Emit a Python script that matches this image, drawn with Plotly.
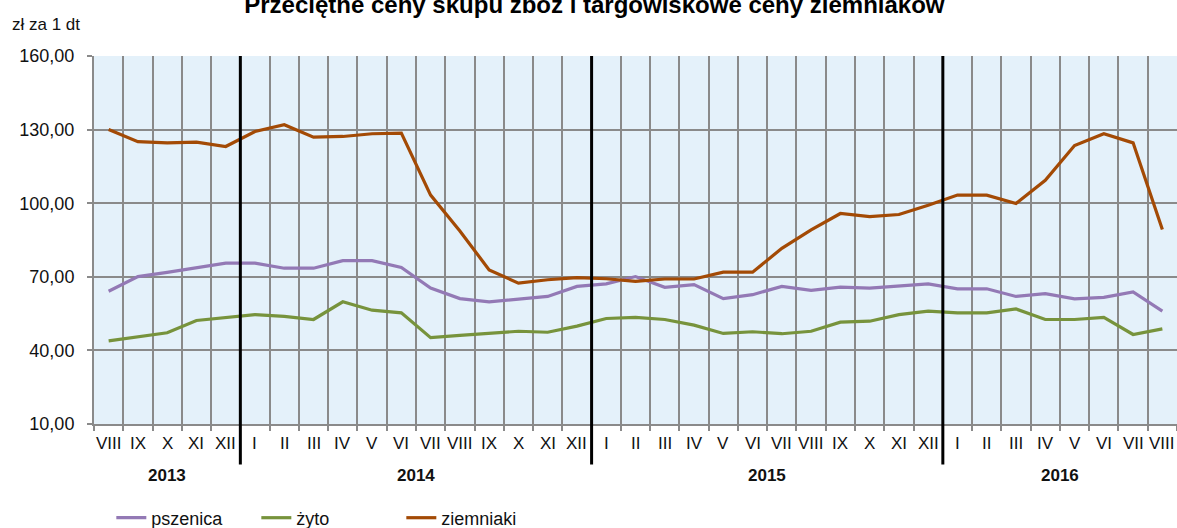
import plotly.graph_objects as go

years = ["2013"] * 5 + ["2014"] * 12 + ["2015"] * 12 + ["2016"] * 8
months = ["VIII", "IX", "X", "XI", "XII"] + \
         ["I", "II", "III", "IV", "V", "VI", "VII", "VIII", "IX", "X", "XI", "XII"] * 2 + \
         ["I", "II", "III", "IV", "V", "VI", "VII", "VIII"]

pszenica = [64.1, 70.1, 71.8, 73.8, 75.6,
            75.6, 73.5, 73.5, 76.6, 76.6, 73.8, 65.4, 61.1, 59.8, 61.0, 62.0, 66.1,
            67.1, 70.1, 65.7, 66.8, 61.1, 62.7, 66.1, 64.5, 65.8, 65.4, 66.1, 67.1,
            65.1, 65.1, 62.0, 63.1, 61.0, 61.6, 63.8, 56.0]
zyto = [43.9, 45.4, 47.2, 52.2, 53.5,
        54.6, 53.9, 52.6, 59.8, 56.4, 55.3, 45.2, 46.1, 46.8, 47.8, 47.4, 49.9,
        53.0, 53.5, 52.6, 50.3, 46.9, 47.6, 46.8, 47.8, 51.5, 51.9, 54.6, 56.0,
        55.3, 55.3, 56.9, 52.6, 52.6, 53.5, 46.5, 48.8]
ziemniaki = [130.0, 125.1, 124.6, 124.9, 123.1,
             129.2, 132.0, 126.9, 127.2, 128.3, 128.6, 103.3, 88.7, 72.8, 67.4, 68.8, 69.7,
             69.2, 68.1, 69.1, 69.1, 71.9, 71.9, 81.6, 89.1, 95.8, 94.5, 95.4, 99.2,
             103.3, 103.3, 99.9, 109.3, 123.5, 128.3, 124.6, 89.3]

series = [("pszenica", pszenica, "#9379B5"),
          ("żyto", zyto, "#77933C"),
          ("ziemniaki", ziemniaki, "#A34A05")]

n = len(months)
idx = list(range(n))
font = "Liberation Sans, Arial, sans-serif"

fig = go.Figure()
for name, vals, col in series:
    fig.add_trace(go.Scatter(
        x=idx, y=vals, name=name, mode="lines",
        line=dict(color=col, width=3.2), hovertemplate="%{y:.2f}<extra>" + name + "</extra>"))

annotations = []
# month labels
for i, m in enumerate(months):
    annotations.append(dict(text=m, x=i, xref="x", y=-0.053, yref="paper",
                            xanchor="center", yanchor="middle", showarrow=False,
                            font=dict(size=17, family=font, color="#111")))
# year labels and separators
groups = []
for i, y in enumerate(years):
    if not groups or groups[-1][0] != y:
        groups.append([y, i, i])
    else:
        groups[-1][2] = i
for y, a, b in groups:
    annotations.append(dict(text="<b>" + y + "</b>", x=(a + b) / 2, xref="x", y=-0.139,
                            yref="paper", xanchor="center", yanchor="middle",
                            showarrow=False, font=dict(size=17, family=font, color="#111")))
    if a > 0:
        xp = a / n
        fig.add_shape(type="line", xref="paper", yref="paper",
                      x0=xp, x1=xp, y0=-0.11, y1=1,
                      line=dict(color="black", width=3), layer="above")

annotations.append(dict(text="zł za 1 dt", xref="paper", yref="paper",
                        x=-0.078, y=1.085, xanchor="left", yanchor="middle",
                        showarrow=False, font=dict(size=17, family=font, color="#111")))

fig.update_layout(
    width=1177, height=528,
    margin=dict(l=94, r=0, t=56, b=104),
    paper_bgcolor="white", plot_bgcolor="#E4F1FA",
    separators=", ",
    font=dict(family=font, size=17, color="#111"),
    title=dict(text="<b>Przeciętne ceny skupu zbóż i targowiskowe ceny ziemniaków</b>",
               x=0.505, xanchor="center", xref="container",
               y=1 - 5 / 528, yanchor="middle", yref="container",
               font=dict(size=24, family=font, color="black")),
    showlegend=True,
    legend=dict(orientation="h", x=0.016, xanchor="left", xref="paper",
                y=10 / 528, yanchor="middle", yref="container",
                font=dict(size=18, family=font, color="#111"), tracegroupgap=0,
                entrywidth=100, entrywidthmode="pixels"),
    xaxis=dict(range=[-0.5, n - 0.5], tickvals=[i - 0.5 for i in range(n + 1)],
               showticklabels=False, showgrid=True, gridcolor="#8A8A8A", gridwidth=2,
               ticks="outside", ticklen=5, tickcolor="#8A8A8A", tickwidth=1.5,
               showline=True, linecolor="#8A8A8A", linewidth=2, zeroline=False,
               automargin=False, fixedrange=True),
    yaxis=dict(range=[10, 160], tickvals=[10, 40, 70, 100, 130, 160], tickformat=".2f",
               showgrid=True, gridcolor="#8A8A8A", gridwidth=2,
               ticks="outside", ticklen=5, tickcolor="#8A8A8A", tickwidth=1.5,
               showline=True, linecolor="#8A8A8A", linewidth=2, zeroline=False,
               ticklabelstandoff=9, automargin=False,
               tickfont=dict(size=18, family=font, color="#111")),
    annotations=annotations,
)

fig.write_html("out.html", config={"displayModeBar": False},
               post_script="document.body.style.margin='0px';")
